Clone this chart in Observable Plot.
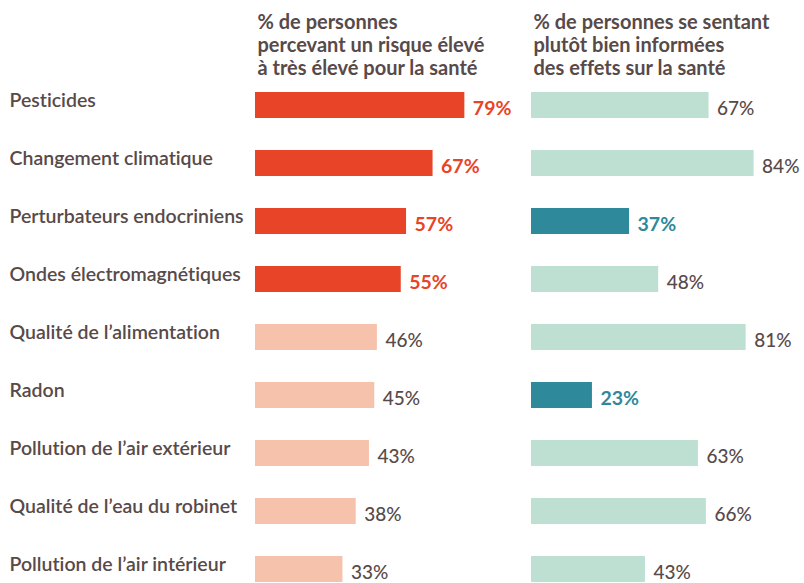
<!DOCTYPE html>
<html>
<head>
<meta charset="utf-8">
<script src="https://cdn.jsdelivr.net/npm/d3@7"></script>
<script src="https://cdn.jsdelivr.net/npm/@observablehq/plot@0.6"></script>
<style>
  html, body { margin: 0; padding: 0; background: #ffffff; }
  #chart svg { display: block; font-variant-ligatures: none; font-feature-settings: "liga" 0, "clig" 0; }
  #chart g[aria-label="value labels"] text { letter-spacing: 0.6px; }
</style>
</head>
<body>
<div id="chart"></div>
<script>
const categories = [
  "Pesticides",
  "Changement climatique",
  "Perturbateurs endocriniens",
  "Ondes électromagnétiques",
  "Qualité de l’alimentation",
  "Radon",
  "Pollution de l’air extérieur",
  "Qualité de l’eau du robinet",
  "Pollution de l’air intérieur"
];
const riskValues = [79, 67, 57, 55, 46, 45, 43, 38, 33];
const infoValues = [67, 84, 37, 48, 81, 23, 63, 66, 43];
const riskHighlighted = ["Pesticides", "Changement climatique", "Perturbateurs endocriniens", "Ondes électromagnétiques"];
const infoHighlighted = ["Perturbateurs endocriniens", "Radon"];
const panels = ["risk", "info"];
const headers = [
  "% de personnes\npercevant un risque élevé\nà très élevé pour la santé",
  "% de personnes se sentant\nplutôt bien informées\ndes effets sur la santé"
];

const textColor = "#574a49";
const barColors = {risk: {hi: "#e84427", lo: "#f7c2ac"}, info: {hi: "#2e8a9b", lo: "#bde0d3"}};
const labelColors = {risk: "#e84427", info: "#2e8a9b"};

const rows = [];
categories.forEach((c, i) => {
  rows.push({panel: "risk", category: c, value: riskValues[i], hi: riskHighlighted.includes(c)});
  rows.push({panel: "info", category: c, value: infoValues[i], hi: infoHighlighted.includes(c)});
});
const headerRows = panels.map((p, i) => ({panel: p, text: headers[i]}));

const chart = Plot.plot({
  width: 804,
  height: 583,
  marginTop: 92,
  marginBottom: 0,
  marginLeft: 254,
  marginRight: 7,
  x: {domain: [0, 100], axis: null},
  y: {domain: categories, paddingInner: 0.55, paddingOuter: 0, axis: null},
  fx: {domain: panels, paddingInner: 0.0397, paddingOuter: 0, axis: null},
  style: {fontFamily: "Lato, 'Open Sans', sans-serif", background: "#ffffff"},
  marks: [
    Plot.barX(rows, {
      fx: "panel", y: "category", x: "value",
      fill: d => barColors[d.panel][d.hi ? "hi" : "lo"]
    }),
    Plot.text(rows.filter(d => d.hi), {
      fx: "panel", y: "category", x: "value",
      text: d => d.value + "%",
      textAnchor: "start", dx: 8, dy: 3,
      fontSize: 19.5, fontWeight: 700,
      fill: d => labelColors[d.panel],
      ariaLabel: "value labels"
    }),
    Plot.text(rows.filter(d => !d.hi), {
      fx: "panel", y: "category", x: "value",
      text: d => d.value + "%",
      textAnchor: "start", dx: 8, dy: 3,
      fontSize: 19, fontWeight: 500,
      fill: textColor,
      ariaLabel: "value labels"
    }),
    Plot.text(categories, {
      fx: () => "risk", y: d => d, text: d => d,
      frameAnchor: "left", textAnchor: "start", dx: -246, dy: -5,
      fontSize: 19.5, fontWeight: 600, fill: textColor
    }),
    Plot.text(headerRows, {
      fx: "panel", text: "text",
      frameAnchor: "top-left", textAnchor: "start", lineAnchor: "top",
      dx: 2, dy: -80, lineHeight: 1.15,
      fontSize: 20, fontWeight: 700, fill: textColor
    })
  ]
});
document.getElementById("chart").appendChild(chart);
</script>
</body>
</html>
